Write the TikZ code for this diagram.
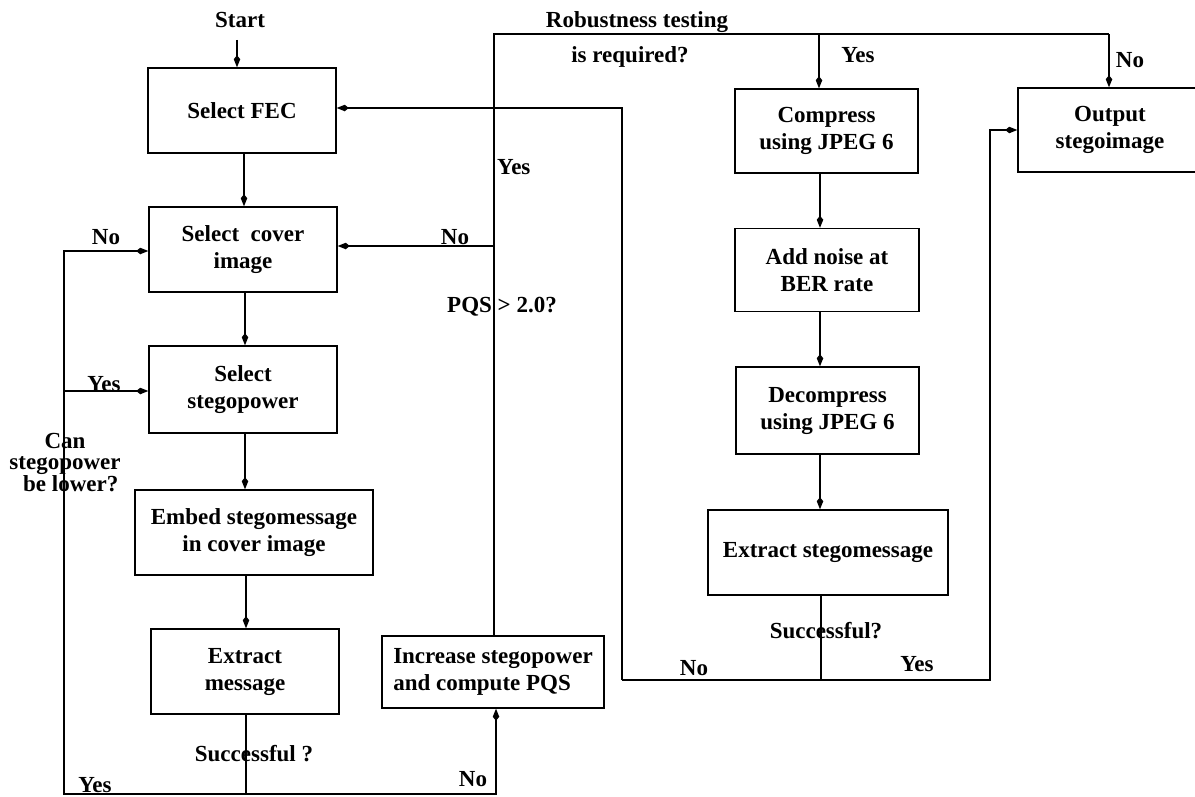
\documentclass[tikz,border=0pt]{standalone}
\usepackage{fontspec}
\setmainfont{Liberation Serif}
\usetikzlibrary{arrows.meta}
\tikzset{
  lbl/.style={font=\fontsize{23}{27}\selectfont\bfseries, inner sep=0pt, align=center},
  qlbl/.style={font=\fontsize{23}{21}\selectfont\bfseries, inner sep=0pt, align=center},
  fbox/.style={draw, line width=1.5pt, font=\fontsize{23}{27}\selectfont\bfseries, align=center, inner sep=0pt},
  ln/.style={line width=1.2pt},
  arr/.style={line width=1.2pt, -{Kite[length=12pt,width=6.5pt,inset=4pt]}},
}
\begin{document}
\begin{tikzpicture}[x=1pt,y=-1pt]
\useasboundingbox (0,0) rectangle (1195,796);
\clip (0,0) rectangle (1195,796);

% boxes
\node[fbox, minimum width=188, minimum height=85] (fec) at (242,110.5) {Select FEC};
\node[fbox, minimum width=188, minimum height=85] (cover) at (243,249.5) {Select\ \ cover\\image};
\node[fbox, minimum width=188, minimum height=87] (power) at (243,389.5) {Select\\stegopower};
\node[fbox, minimum width=238, minimum height=85] (embed) at (254,532.5) {Embed stegomessage\\in cover image};
\node[fbox, minimum width=188, minimum height=85] (extract) at (245,671.5) {Extract\\message};
\node[fbox, minimum width=222, minimum height=72, align=left] (increase) at (493,672) {Increase stegopower\\and compute PQS};
\node[fbox, minimum width=183, minimum height=84] (compress) at (826.5,131) {Compress\\using JPEG 6};
\node[fbox, minimum width=184, minimum height=83] (noise) at (827,270) {Add noise at\\BER rate};
\node[fbox, minimum width=183, minimum height=87] (decompress) at (827.5,410.5) {Decompress\\using JPEG 6};
\node[fbox, minimum width=240, minimum height=85] (extractsm) at (828,552.5) {Extract stegomessage};
\node[fbox, minimum width=184, minimum height=84] (output) at (1110,130) {Output\\stegoimage};

% labels
\node[lbl] (start) at (240,20) {Start};
\node[lbl] (rob1) at (637,22) {Robustness testing};
\node[lbl] (rob2) at (630,57) {is required?};
\node[lbl] (yes1) at (858,55) {Yes};
\node[lbl] (no1) at (1130,60) {No};
\node[lbl, anchor=west] (yes2) at (497,167) {Yes};
\node[lbl] (no2) at (455,237) {No};
\node[lbl] (pqs) at (502,307) {PQS > 2.0?};
\node[lbl] (no3) at (106,237) {No};
\node[lbl] (yes3) at (104,384) {Yes};
\node[qlbl] (can) at (65,463) {Can\\stegopower\\\ \ be lower?};
\node[lbl] (succ1) at (254,754) {Successful ?};
\node[lbl] (yes4) at (95,785) {Yes};
\node[lbl] (no4) at (473,779) {No};
\node[lbl] (succ2) at (826,631) {Successful?};
\node[lbl] (no5) at (694,668) {No};
\node[lbl] (yes5) at (917,664) {Yes};

% coordinates
\coordinate (bl) at (64,794);
\coordinate (br) at (496,794);
\coordinate (jy) at (64,391);
\coordinate (tl) at (494,34);
\coordinate (tm) at (819,34);
\coordinate (tr) at (1109,34);
\coordinate (pj) at (494,246);
\coordinate (fl) at (622,108);
\coordinate (fb) at (622,680);
\coordinate (sm) at (821,680);
\coordinate (fr) at (990,680);
\coordinate (ft) at (990,130);

% main chain
\draw[arr, shorten <=12pt] (start.south -| 237,0) -- (237,0 |- fec.north);
\draw[arr] (244,0 |- fec.south) -- (244,0 |- cover.north);
\draw[arr] (245,0 |- cover.south) -- (245,0 |- power.north);
\draw[arr] (245,0 |- power.south) -- (245,0 |- embed.north);
\draw[arr] (246,0 |- embed.south) -- (246,0 |- extract.north);

% left loop
\draw[ln] (246,0 |- extract.south) -- (246,794);
\draw[arr] (br) -- (bl) -- (64,251) -- (64,251 -| cover.west);
\draw[arr] (jy) -- (jy -| power.west);
\draw[arr] (bl) -- (br) -- (br |- increase.south);

% PQS loop
\draw[ln] (tl |- increase.north) -- (tl) -- (tr);
\draw[arr] (tr) -- (tr |- output.north);
\draw[arr] (tm) -- (tm |- compress.north);
\draw[arr] (pj) -- (pj -| cover.east);

% right chain
\draw[arr] (820,0 |- compress.south) -- (820,0 |- noise.north);
\draw[arr] (820,0 |- noise.south) -- (820,0 |- decompress.north);
\draw[arr] (820,0 |- decompress.south) -- (820,0 |- extractsm.north);
\draw[ln] (sm |- extractsm.south) -- (sm);

% FEC / output loop
\draw[arr] (fb) -- (fl) -- (fl -| fec.east);
\draw[arr] (fb) -- (fr) -- (ft) -- (output.west);
\end{tikzpicture}
\end{document}
